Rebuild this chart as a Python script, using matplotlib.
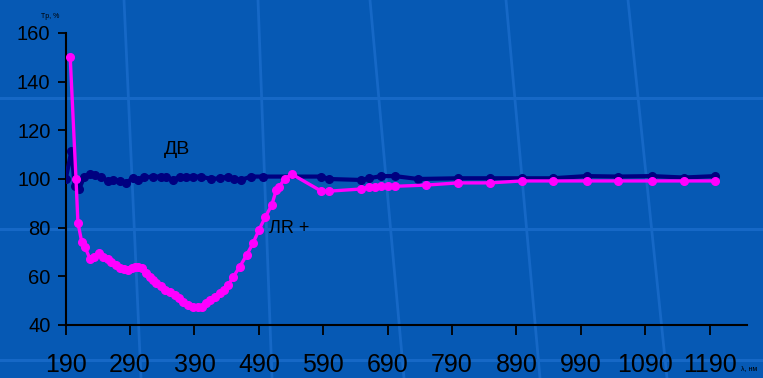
import matplotlib
matplotlib.use('Agg')
import matplotlib.pyplot as plt
from matplotlib.lines import Line2D

# wavelength, nm / relative transmission, %
x_dv = [190, 199, 204, 211, 219, 228, 235, 245, 256, 263, 274, 283, 295, 302, 312,
        326, 338, 346, 357, 367, 377, 388, 400, 416, 429, 442, 452, 462, 478, 496,
        587, 599, 649, 661, 680, 701, 737, 799, 849, 898, 946, 999, 1048, 1100,
        1150, 1199]
y_dv = [100, 111.6, 97, 96, 101, 102, 101.6, 101, 99, 99.6, 99.3, 98.4, 100.4, 99.6,
        100.7, 101, 101, 100.7, 99.6, 101, 101, 101, 101, 100, 100.3, 101, 100, 99.6,
        101, 101, 101, 100, 99.6, 100.3, 101.2, 101.2, 100, 100.3, 100.3, 100.3, 100.3,
        101.2, 101, 101.2, 100.6, 101.2]

x_lr = [197, 206, 209, 215, 220, 228, 234, 241, 248, 255, 261, 268, 274, 281, 287,
        293, 298, 303, 308, 315, 321, 326, 331, 338, 344, 352, 360, 366, 372, 380,
        388, 395, 401, 408, 414, 422, 429, 436, 442, 450, 460, 471, 481, 490, 500,
        510, 517, 521, 530, 541, 587, 599, 649, 661, 670, 680, 690, 701, 750, 799,
        849, 898, 946, 999, 1048, 1100, 1150, 1199]
y_lr = [150, 100, 82, 74, 72, 67, 68, 69.6, 68, 67, 66, 64.5, 63.4, 63, 62.6,
        63.5, 63.8, 64, 63.4, 61.5, 59.7, 58.5, 57.2, 56, 54.4, 53.5, 52.3, 51, 49.4,
        48.3, 47.4, 47.2, 47.4, 49, 50.3, 51.5, 53.1, 54.5, 56.4, 59.7, 63.8, 68.8,
        73.7, 79, 84.4, 89.3, 95.5, 96.7, 100, 102, 95, 95, 95.9, 96.7, 96.8, 97, 97,
        97, 97.5, 98.4, 98.4, 99.2, 99.2, 99.2, 99.2, 99.2, 99.2, 99.2]

xticks = [190, 290, 390, 490, 590, 690, 790, 890, 990, 1090, 1190]
yticks = [40, 60, 80, 100, 120, 140, 160]

bg = '#0659b4'
stripe = '#1668c6'
W, H = 763, 378

plt.rcParams['font.family'] = ['Liberation Sans', 'DejaVu Sans']

fig = plt.figure(figsize=(7.63, 3.78), dpi=100, facecolor=bg)

# background slide stripes
for yp in [98, 229, 360]:
    fig.add_artist(Line2D([0, 1], [1 - yp / H, 1 - yp / H], color=stripe, lw=2.2, zorder=0))
for xt, xb in [(124, 141), (258, 272), (370, 404), (506, 540), (628, 667)]:
    fig.add_artist(Line2D([xt / W, xb / W], [1, 0], color=stripe, lw=2, zorder=0))

ax = fig.add_axes([65.7 / W, 1 - 325 / H, (747 - 65.7) / W, (325 - 33) / H])
ax.patch.set_visible(False)

ax.plot(x_dv, y_dv, color='#000080', lw=3, marker='o', ms=5.5, zorder=3)
ax.plot(x_lr, y_lr, color='#ff00ff', lw=2.4, marker='o', ms=5.5, zorder=4)

ax.set_xlim(190, 1248)
ax.set_ylim(40, 160)
ax.set_xticks(xticks)
ax.set_yticks(yticks)
ax.tick_params(axis='x', length=7, width=1.3, pad=13, labelsize=18, colors='black')
ax.tick_params(axis='y', length=6, width=1.3, pad=5, labelsize=14.5, colors='black')
for s in ['top', 'right']:
    ax.spines[s].set_visible(False)
for s in ['left', 'bottom']:
    ax.spines[s].set_linewidth(1.5)
    ax.spines[s].set_color('black')

ax.text(363, 112, 'ДВ', fontsize=14, ha='center', va='center', zorder=5)
ax.text(506, 79.5, 'ЛR +', fontsize=13, ha='left', va='center', zorder=2)

fig.text(41 / W, 1 - 16 / H, 'Tр, %', fontsize=5, ha='left', va='center')
fig.text(741 / W, 1 - 372 / H, 'λ, нм', fontsize=5, ha='left', va='bottom')

fig.savefig('out.png', dpi=100, facecolor=bg)
